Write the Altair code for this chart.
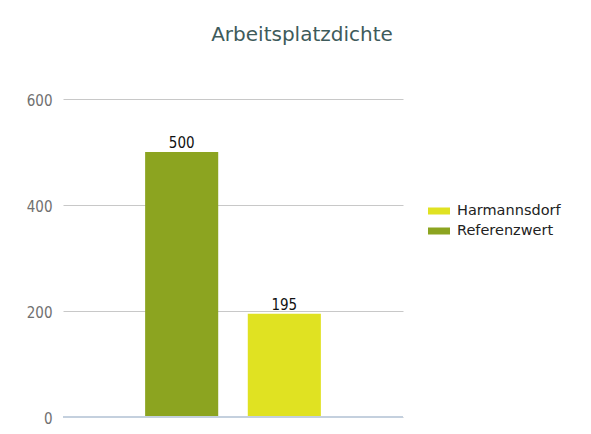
import altair as alt
import pandas as pd

categories = ["Referenzwert", "Harmannsdorf"]
values = [500, 195]
legend_order = ["Harmannsdorf", "Referenzwert"]
colors = ["#e0e222", "#8ca420"]
y_ticks = [0, 200, 400, 600]

df = pd.DataFrame({"name": categories, "value": values})

num_font = "DejaVu Sans Condensed"

x = alt.X("name:N", sort=categories, axis=None,
          scale=alt.Scale(paddingInner=0.288, paddingOuter=0.80))
y = alt.Y("value:Q", scale=alt.Scale(domain=[0, 600]),
          axis=alt.Axis(values=y_ticks, title=None, domain=False, ticks=False,
                        labelPadding=11, labelFontSize=15, labelColor="#707070",
                        labelFont=num_font, labelOffset=1,
                        gridColor="#c8c8c8", gridWidth=1))

bars = alt.Chart(df).mark_bar().encode(
    x=x, y=y,
    color=alt.Color("name:N", scale=alt.Scale(domain=legend_order, range=colors),
                    legend=alt.Legend(title=None, orient="none", legendX=365, legendY=102,
                                      symbolType="M-1,-0.32H1V0.32H-1Z", symbolSize=484,
                                      symbolStrokeWidth=0, clipHeight=20, rowPadding=0,
                                      labelFontSize=14.5, labelFont="DejaVu Sans",
                                      labelColor="#222222", labelOffset=7, padding=0))
)

zero = alt.Chart(pd.DataFrame({"v": [0]})).mark_rule(color="#c4d0de", strokeWidth=2).encode(y="v:Q")

labels = alt.Chart(df).mark_text(baseline="alphabetic", dy=-4, fontSize=15,
                                 font=num_font, color="#111111").encode(
    x=alt.X("name:N", sort=categories), y="value:Q", text="value:Q")

chart = alt.layer(bars, zero, labels).properties(
    width=340, height=318,
    title=alt.TitleParams("Arbeitsplatzdichte", fontSize=20, font="DejaVu Sans",
                          fontWeight="normal", color="#3e5b5b", anchor="middle",
                          dx=69, offset=48),
    autosize=alt.AutoSizeParams(type="none"),
    padding={"left": 55, "top": 91, "right": 180, "bottom": 9},
).configure_view(stroke=None)

chart.save("out.html", embed_options={"renderer": "svg", "actions": False})
